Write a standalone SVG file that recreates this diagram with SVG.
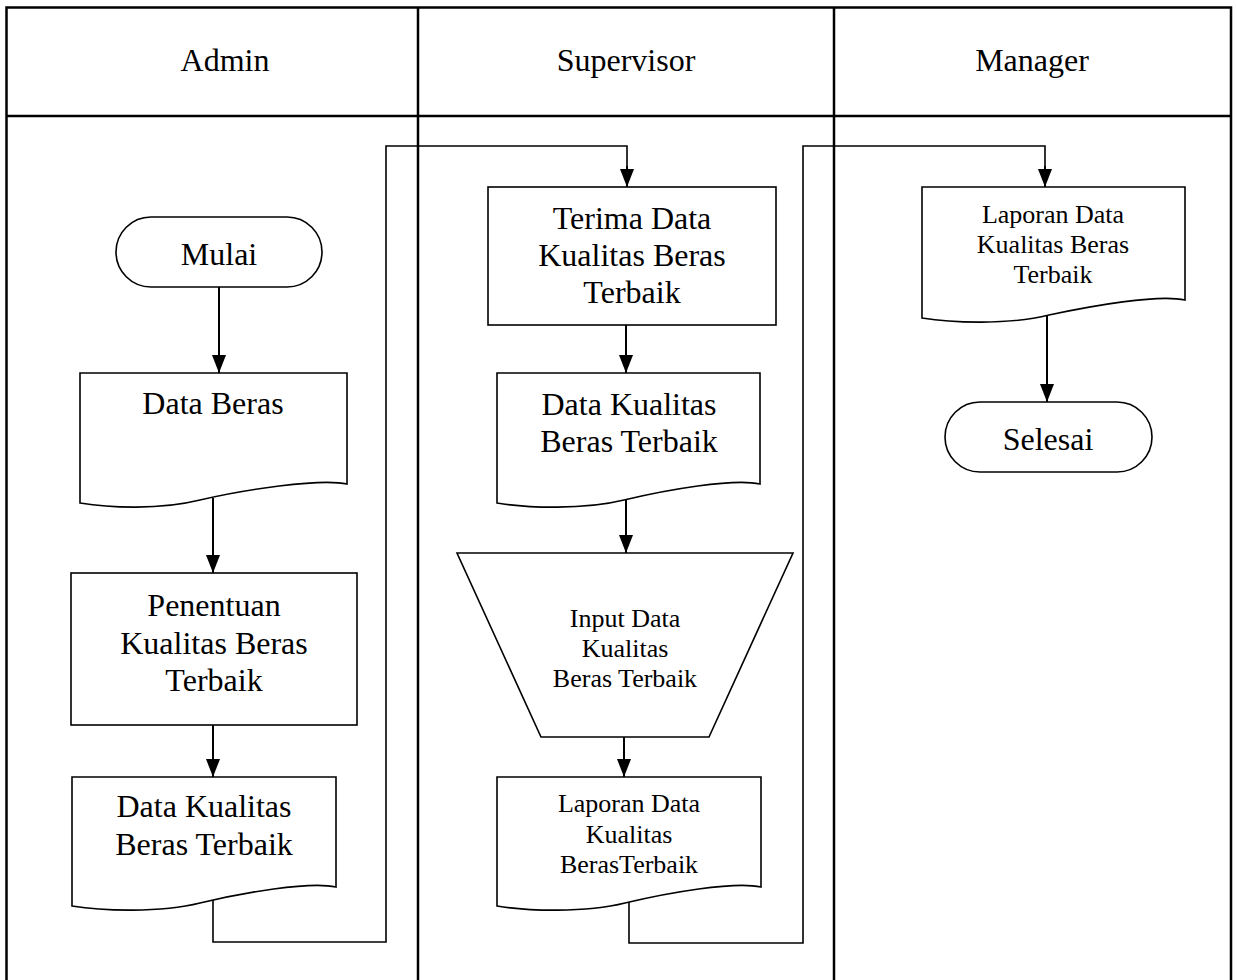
<svg xmlns="http://www.w3.org/2000/svg" width="1237" height="980" viewBox="0 0 1237 980">
  <style>
    text { font-family: "Liberation Serif", "Times New Roman", serif; fill: #000; text-anchor: middle; }
    .big { font-size: 32px; }
    .small { font-size: 26px; }
    .frame { fill: none; stroke: #000; stroke-width: 2.5; }
    .shape { fill: #fff; stroke: #000; stroke-width: 1.6; }
    .flow { fill: none; stroke: #000; stroke-width: 2; }
    .route { fill: none; stroke: #000; stroke-width: 1.6; }
  </style>
  <defs>
    <!-- filled arrowhead, tip at the end of the line -->
    <marker id="arrow" markerUnits="userSpaceOnUse" markerWidth="18" markerHeight="14" viewBox="0 0 18 14" refX="18" refY="7" orient="auto">
      <path d="M0,0 L18,7 L0,14 Z" fill="#000"/>
    </marker>
  </defs>

  <rect width="1237" height="980" fill="#fff"/>

  <!-- swimlane frame -->
  <g id="lanes">
    <path class="frame" d="M6.5,985 V7.5 H1231 V985"/>
    <line class="frame" x1="6.5" y1="116" x2="1231" y2="116"/>
    <line class="frame" x1="418" y1="7.5" x2="418" y2="985"/>
    <line class="frame" x1="834" y1="7.5" x2="834" y2="985"/>
    <text class="big" x="225" y="71">Admin</text>
    <text class="big" x="626" y="71">Supervisor</text>
    <text class="big" x="1032" y="71">Manager</text>
  </g>

  <!-- connectors -->
  <g id="connectors">
    <path class="flow" d="M219,287 V373" marker-end="url(#arrow)"/>
    <path class="flow" d="M213,498 V573" marker-end="url(#arrow)"/>
    <path class="flow" d="M213,725 V777" marker-end="url(#arrow)"/>
    <path class="route" d="M213,895 V942 H386 V146 H627 V168"/>
    <path class="flow" d="M627,166 V187" marker-end="url(#arrow)"/>
    <path class="flow" d="M626,325 V373" marker-end="url(#arrow)"/>
    <path class="flow" d="M626,498 V553" marker-end="url(#arrow)"/>
    <path class="flow" d="M624,737 V777" marker-end="url(#arrow)"/>
    <path class="route" d="M629,895 V943 H803 V146 H1045 V168"/>
    <path class="flow" d="M1045,166 V187" marker-end="url(#arrow)"/>
    <path class="flow" d="M1047,310 V402" marker-end="url(#arrow)"/>
  </g>

  <!-- Admin lane -->
  <g id="mulai">
    <rect class="shape" x="116" y="217" width="206" height="70" rx="35" ry="35"/>
    <text class="big" x="219" y="265">Mulai</text>
  </g>
  <g id="data-beras">
    <path class="shape" d="M80,373 H347 V484 C320,478 242,490 200,500 C160,510 110,508 80,503 Z"/>
    <text class="big" x="213" y="414">Data Beras</text>
  </g>
  <g id="penentuan">
    <rect class="shape" x="71" y="573" width="286" height="152"/>
    <text class="big" x="214" y="616">Penentuan</text>
    <text class="big" x="214" y="654">Kualitas Beras</text>
    <text class="big" x="214" y="691">Terbaik</text>
  </g>
  <g id="data-kualitas-admin">
    <path class="shape" d="M72,777 H336 V887 C309,881 242,893 200,903 C160,913 102,911 72,906 Z"/>
    <text class="big" x="204" y="817">Data Kualitas</text>
    <text class="big" x="204" y="855">Beras Terbaik</text>
  </g>

  <!-- Supervisor lane -->
  <g id="terima">
    <rect class="shape" x="488" y="187" width="288" height="138"/>
    <text class="big" x="632" y="229">Terima Data</text>
    <text class="big" x="632" y="266">Kualitas Beras</text>
    <text class="big" x="632" y="303">Terbaik</text>
  </g>
  <g id="data-kualitas-supervisor">
    <path class="shape" d="M497,373 H760 V484 C733,478 666,490 624,500 C584,510 527,508 497,503 Z"/>
    <text class="big" x="629" y="415">Data Kualitas</text>
    <text class="big" x="629" y="452">Beras Terbaik</text>
  </g>
  <g id="input-data">
    <path class="shape" d="M457,553 H793 L709,737 H541 Z"/>
    <text class="small" x="625" y="627">Input Data</text>
    <text class="small" x="625" y="657">Kualitas</text>
    <text class="small" x="625" y="687">Beras Terbaik</text>
  </g>
  <g id="laporan-supervisor">
    <path class="shape" d="M497,777 H761 V887 C734,881 667,893 625,903 C585,913 527,911 497,906 Z"/>
    <text class="small" x="629" y="812">Laporan Data</text>
    <text class="small" x="629" y="843">Kualitas</text>
    <text class="small" x="629" y="873">BerasTerbaik</text>
  </g>

  <!-- Manager lane -->
  <g id="laporan-manager">
    <path class="shape" d="M922,187 H1185 V300 C1158,294 1091,306 1049,315 C1009,325 952,323 922,318 Z"/>
    <text class="small" x="1053" y="223">Laporan Data</text>
    <text class="small" x="1053" y="253">Kualitas Beras</text>
    <text class="small" x="1053" y="283">Terbaik</text>
  </g>
  <g id="selesai">
    <rect class="shape" x="945" y="402" width="207" height="70" rx="35" ry="35"/>
    <text class="big" x="1048" y="450">Selesai</text>
  </g>
</svg>
